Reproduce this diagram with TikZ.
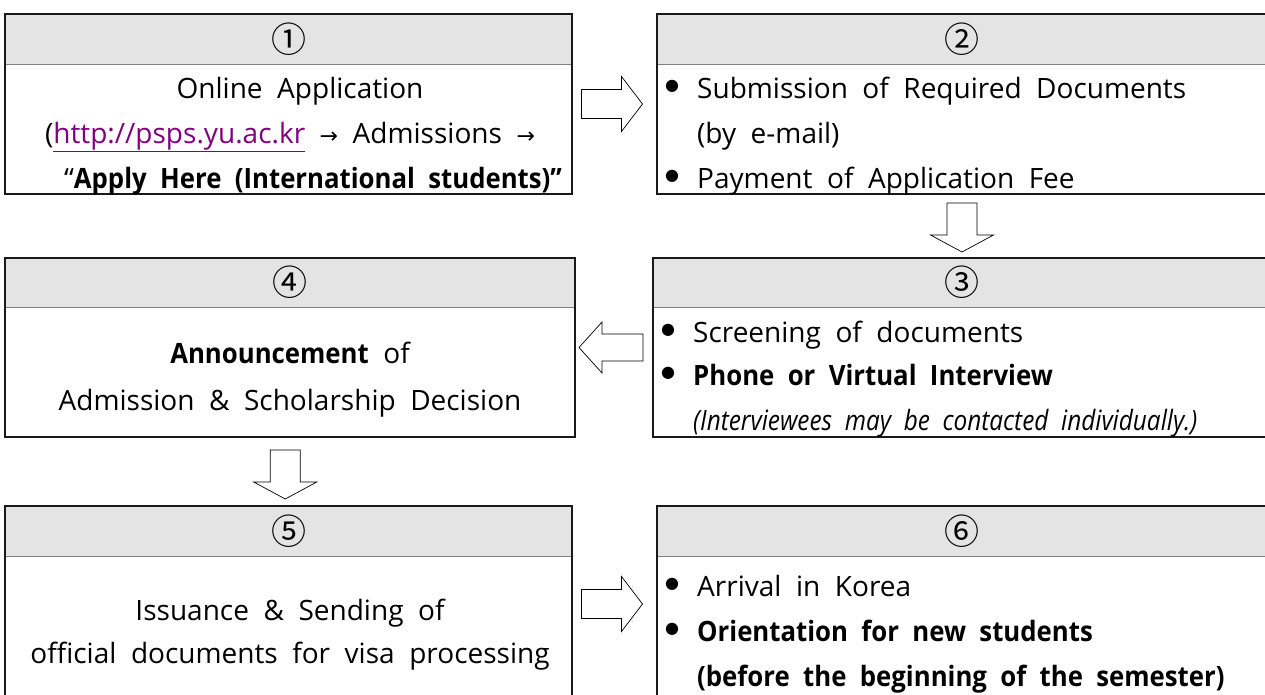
\documentclass[tikz,border=0pt]{standalone}
\usepackage{fontspec}
\setmainfont[WordSpace=2, BoldFeatures={FakeStretch=0.92}, ItalicFeatures={FakeStretch=0.87}]{Open Sans}
\newfontfamily\symfont{DejaVu Sans}
\newfontfamily\cjk{Noto Sans CJK KR}
\usetikzlibrary{calc}
\definecolor{hdrgray}{HTML}{E4E4E4}
\definecolor{urlpurple}{HTML}{800080}
\newcommand{\arr}{{\symfont\fontsize{22}{24}\selectfont →}}
\tikzset{
  boxshape/.style={rectangle, inner sep=0pt, outer sep=0pt, anchor=north west},
  boxline/.style={line width=2pt, draw=black!90},
  sepline/.style={line width=1pt, draw=black!50},
  hdr/.style={fill=hdrgray},
  blk/.style={draw=black, line width=0.7pt, fill=white, line join=miter},
  txt/.style={inner sep=0pt, font=\fontsize{28}{34}\selectfont},
  num/.style={inner sep=0pt, font=\cjk\fontsize{35}{36}\selectfont},
  bul/.style={inner sep=0pt, font=\symfont\fontsize{16}{16}\selectfont},
  rarr/.pic={\draw[blk] (-31,-14.5) -- (9,-14.5) -- (9,-27.5) -- (30,0) -- (9,27.5) -- (9,14.5) -- (-31,14.5) -- cycle;},
  larr/.pic={\draw[blk] (32,-13.5) -- (-9,-13.5) -- (-9,-25.5) -- (-32,0) -- (-9,25.5) -- (-9,13.5) -- (32,13.5) -- cycle;},
  darr/.pic={\draw[blk] (-15,-24.5) -- (-15,7.5) -- (-31.5,7.5) -- (0,24.5) -- (31.5,7.5) -- (15,7.5) -- (15,-24.5) -- cycle;},
}
% box name, header height, number
\newcommand{\stepbox}[3]{%
  \fill[hdr] (#1.north west) rectangle ($(#1.north east)+(0,#2)$);
  \draw[sepline] ($(#1.north west)+(0,#2)$) -- ($(#1.north east)+(0,#2)$);
  \draw[boxline] (#1.north west) rectangle (#1.south east);
  \node[num] (#1num) at ($(#1.north)+(0,#2/2)$) {#3};
}
\begin{document}
\begin{tikzpicture}[x=1pt,y=-1pt]
\useasboundingbox (0,0) rectangle (1265,694);
\begin{scope}
\clip (0,0) rectangle (1265,694);
% boxes
\node[boxshape, minimum width=567pt, minimum height=180pt] (b1) at (5,14) {};
\node[boxshape, minimum width=610pt, minimum height=180pt] (b2) at (657,14) {};
\node[boxshape, minimum width=618pt, minimum height=179pt] (b3) at (653,258) {};
\node[boxshape, minimum width=570pt, minimum height=179pt] (b4) at (5,258) {};
\node[boxshape, minimum width=567pt, minimum height=196pt] (b5) at (5,506) {};
\node[boxshape, minimum width=610pt, minimum height=196pt] (b6) at (657,506) {};
\stepbox{b1}{50}{①}
\stepbox{b2}{50}{②}
\stepbox{b3}{49}{③}
\stepbox{b4}{49}{④}
\stepbox{b5}{50}{⑤}
\stepbox{b6}{50}{⑥}

% box 1 text
\node[txt, anchor=base] (t11) at (300,98) {Online Application};
\node[txt, anchor=base] (t12) at (290,143) {(\textcolor{urlpurple}{\underline{http://psps.yu.ac.kr}} \arr{} Admissions \arr};
\node[txt, anchor=base] (t13) at (313,188) {“\textbf{Apply Here (International students)”}};

% box 2 text
\node[bul] (u21) at (672,86) {●};
\node[txt, anchor=base west] (t21) at (697,98) {Submission of Required Documents};
\node[txt, anchor=base west] (t22) at (697,143) {(by e-mail)};
\node[bul] (u22) at (672,176) {●};
\node[txt, anchor=base west] (t23) at (697,188) {Payment of Application Fee};

% box 3 text
\node[bul] (u31) at (668,330) {●};
\node[txt, anchor=base west] (t31) at (693,342) {Screening of documents};
\node[bul] (u32) at (668,373) {●};
\node[txt, anchor=base west] (t32) at (693,385) {\textbf{Phone or Virtual Interview}};
\node[txt, anchor=base west] (t33) at (693,430) {\textit{(Interviewees may be contacted individually.)}};

% box 4 text
\node[txt, anchor=base] (t41) at (290,363) {\textbf{Announcement} of};
\node[txt, anchor=base] (t42) at (290,410) {Admission \& Scholarship Decision};

% box 5 text
\node[txt, anchor=base] (t51) at (290,620) {Issuance \& Sending of};
\node[txt, anchor=base] (t52) at (290,663) {official documents for visa processing};

% box 6 text
\node[bul] (u61) at (672,584) {●};
\node[txt, anchor=base west] (t61) at (697,596) {Arrival in Korea};
\node[bul] (u62) at (672,629) {●};
\node[txt, anchor=base west] (t62) at (697,641) {\textbf{Orientation for new students}};
\node[txt, anchor=base west] (t63) at (697,686) {\textbf{(before the beginning of the semester)}};

% block arrows between steps
\pic at ($(b1.east)!0.5!(b2.west)+(-2,0)$) {rarr};
\pic at ($(b2.south)!0.5!(b3.north)+(0,1.5)$) {darr};
\pic at ($(b4.east)!0.5!(b3.west)+(-3,0)$) {larr};
\pic at ($(b4.south)!0.5!(b5.north)+(-4,3)$) {darr};
\pic at ($(b5.east)!0.5!(b6.west)+(-2,0)$) {rarr};
\end{scope}
\end{tikzpicture}
\end{document}
